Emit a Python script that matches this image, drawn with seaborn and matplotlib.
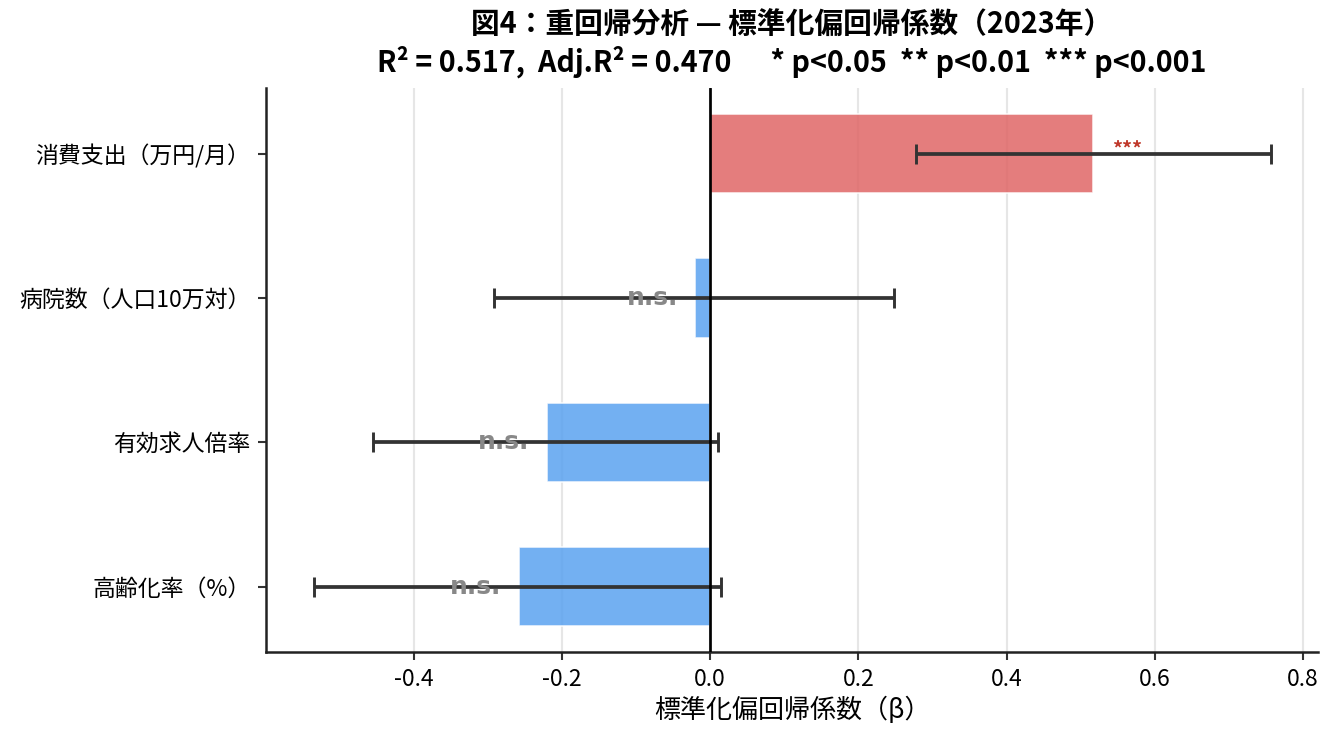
import numpy as np
import pandas as pd
import seaborn as sns
import matplotlib.pyplot as plt

variables = ['消費支出（万円/月）', '病院数（人口10万対）', '有効求人倍率', '高齢化率（%）']
beta = [0.517, -0.020, -0.220, -0.258]
ci_low = [0.278, -0.291, -0.454, -0.534]
ci_high = [0.757, 0.248, 0.011, 0.015]
sig = ['***', 'n.s.', 'n.s.', 'n.s.']

r2 = 0.517
adj_r2 = 0.470

sns.set_style('white')
plt.rcParams['font.family'] = ['Noto Sans CJK JP', 'DejaVu Sans']
plt.rcParams['text.color'] = 'black'
plt.rcParams['axes.labelcolor'] = 'black'
plt.rcParams['xtick.color'] = 'black'
plt.rcParams['ytick.color'] = 'black'

df = pd.DataFrame({'var': variables, 'beta': beta, 'lo': ci_low, 'hi': ci_high, 'sig': sig})
colors = {v: ('#E06666' if b > 0 else '#5AA2F0') for v, b in zip(variables, beta)}

fig, ax = plt.subplots(figsize=(8.893, 4.9), dpi=150)
fig.subplots_adjust(left=0.1994, right=0.988, top=0.880, bottom=0.113)

ax.grid(axis='x', color='#e6e6e6', linewidth=1.0)
ax.set_axisbelow(True)

sns.barplot(data=df, x='beta', y='var', hue='var', palette=colors, orient='h',
            width=0.55, alpha=0.85, edgecolor='white', linewidth=0.8,
            saturation=1, legend=False, ax=ax)

ypos = np.arange(len(df))
ax.errorbar(df['beta'], ypos, xerr=[df['beta'] - df['lo'], df['hi'] - df['beta']],
            fmt='none', ecolor='#333333', elinewidth=1.8, capsize=5, capthick=1.4, zorder=3)
ax.axvline(0, color='black', linewidth=1.3, zorder=4)

for i, row in df.iterrows():
    if row['sig'] == 'n.s.':
        ax.text(row['beta'] - 0.058, i, 'n.s.', ha='center', va='center',
                fontsize=12, fontweight='bold', color='#888888', family='DejaVu Sans', zorder=5)
    else:
        ax.text(row['beta'] + 0.045, i - 0.03, row['sig'], ha='center', va='center',
                fontsize=9.5, fontweight='bold', color='#c0392b', zorder=5)

ax.set_xlim(-0.599, 0.820)
ax.set_ylim(3.4525, -0.4525)
ax.set_xticks([-0.4, -0.2, 0.0, 0.2, 0.4, 0.6, 0.8])
ax.set_xticklabels(['-0.4', '-0.2', '0.0', '0.2', '0.4', '0.6', '0.8'])
ax.tick_params(axis='x', labelsize=11, length=4, width=1, color='#333333', bottom=True)
ax.tick_params(axis='y', labelsize=11, length=4, width=1, color='#333333', left=True)
ax.set_ylabel('')
ax.set_xlabel('標準化偏回帰係数（β）', fontsize=12.5, labelpad=3)

for s in ['top', 'right']:
    ax.spines[s].set_visible(False)
for s in ['left', 'bottom']:
    ax.spines[s].set_color('#222222')
    ax.spines[s].set_linewidth(1.2)

ax.set_title('図4：重回帰分析 — 標準化偏回帰係数（2023年）\n'
             f'R² = {r2:.3f},  Adj.R² = {adj_r2:.3f}      * p<0.05  ** p<0.01  *** p<0.001',
             fontsize=13.8, fontweight='bold', pad=8, linespacing=1.22)

fig.savefig('out.png', dpi=150)
